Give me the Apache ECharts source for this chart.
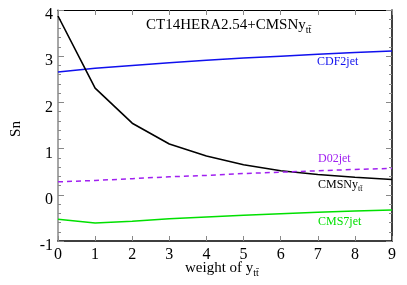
<!DOCTYPE html>
<html><head><meta charset="utf-8">
<script src="https://cdn.jsdelivr.net/npm/echarts@6/dist/echarts.min.js"></script>
<style>html,body{margin:0;padding:0;background:#fff}#c{width:407px;height:285px}</style>
</head><body><div id="c"></div>
<script>
const xCats = [0,1,2,3,4,5,6,7,8,9];
const cdf2jet = [2.66,2.74,2.80,2.86,2.91,2.96,3.00,3.04,3.08,3.11];
const cmsnytt = [3.87,2.31,1.55,1.10,0.84,0.65,0.52,0.44,0.38,0.33];
const d02jet = [0.28,0.31,0.35,0.39,0.42,0.46,0.49,0.52,0.55,0.57];
const cms7jet = [-0.53,-0.61,-0.57,-0.52,-0.48,-0.44,-0.41,-0.38,-0.35,-0.33];
const yTicks = [-1,0,1,2,3,4];

const F = '"Liberation Serif","DejaVu Serif",serif';
const chart = echarts.init(document.getElementById('c'), null, {renderer:'canvas'});
const pair = a => a.map((v,i)=>[xCats[i], v]);
const grid = {left:58, right:15, top:10, bottom:44};
chart.setOption({
  animation:false,
  grid: grid,
  xAxis: [{
    type:'value', min:0, max:9, interval:1,
    axisLine:{show:true, onZero:false, lineStyle:{color:'#000', width:1.5}},
    axisTick:{show:true, inside:true, length:5, lineStyle:{color:'#888'}},
    axisLabel:{color:'#000', fontFamily:F, fontSize:16, margin:6},
    splitLine:{show:false}
  },{
    type:'value', min:0, max:9, interval:1, position:'top',
    axisLine:{show:true, onZero:false, lineStyle:{color:'#000', width:1.2}},
    axisTick:{show:true, inside:true, length:5, lineStyle:{color:'#888'}},
    axisLabel:{show:false}, splitLine:{show:false}
  }],
  yAxis: [{
    type:'value', min:-1, max:4, interval:1,
    axisLine:{show:true, onZero:false, lineStyle:{color:'#888', width:1.5}},
    axisTick:{show:true, inside:true, length:6, lineStyle:{color:'#888'}},
    minorTick:{show:true, splitNumber:5, length:3, lineStyle:{color:'#888'}},
    axisLabel:{color:'#000', fontFamily:F, fontSize:16, margin:5,
      formatter: v => yTicks.includes(v) ? '{a|' + v + '}' : '',
      rich:{a:{fontFamily:F, fontSize:16, color:'#000', padding:[10,0,0,0]}}},
    splitLine:{show:false}
  },{
    type:'value', min:-1, max:4, interval:1, position:'right',
    axisLine:{show:true, onZero:false, lineStyle:{color:'#000', width:1.5}},
    axisTick:{show:true, inside:true, length:6, lineStyle:{color:'#888'}},
    minorTick:{show:true, splitNumber:5, length:3, lineStyle:{color:'#888'}},
    axisLabel:{show:false}, splitLine:{show:false}
  }],
  series: [
    {type:'line', data:pair(cdf2jet), symbol:'none', lineStyle:{color:'#1010ee', width:1.5}},
    {type:'line', data:pair(cmsnytt), symbol:'none', lineStyle:{color:'#000', width:1.6}},
    {type:'line', data:pair(d02jet), symbol:'none', lineStyle:{color:'#a020f0', width:1.5, type:[5,4]}},
    {type:'line', data:pair(cms7jet), symbol:'none', lineStyle:{color:'#00e000', width:1.5}}
  ],
  graphic: [
    {type:'text', left:146, top:18, style:{
      text:'CT14HERA2.54+CMSNy{s|tt\u0304}',
      rich:{s:{fontFamily:F, fontSize:10, padding:[9,0,0,0], fill:'#000'}},
      fontFamily:F, fontSize:15, fill:'#000'}},
    {type:'text', left:317, top:56, style:{text:'CDF2jet', fontFamily:F, fontSize:12, fill:'#1010ee'}},
    {type:'text', left:318, top:153, style:{text:'D02jet', fontFamily:F, fontSize:12, fill:'#a020f0'}},
    {type:'text', left:318, top:179, style:{text:'CMSNy{s|tt\u0304}',
      rich:{s:{fontFamily:F, fontSize:8, padding:[8,0,0,0], fill:'#000'}},
      fontFamily:F, fontSize:12, fill:'#000'}},
    {type:'text', left:318, top:216, style:{text:'CMS7jet', fontFamily:F, fontSize:12, fill:'#00e000'}},
    {type:'text', left:185, top:261, style:{text:'weight of y{s|tt\u0304}',
      rich:{s:{fontFamily:F, fontSize:10, padding:[9,0,0,0], fill:'#000'}},
      fontFamily:F, fontSize:15, fill:'#000'}},
    {type:'text', x:16, y:129, rotation:Math.PI/2, style:{text:'Sn', fontFamily:F, fontSize:15, fill:'#000', align:'center', verticalAlign:'middle'}}
  ]
});
</script></body></html>
